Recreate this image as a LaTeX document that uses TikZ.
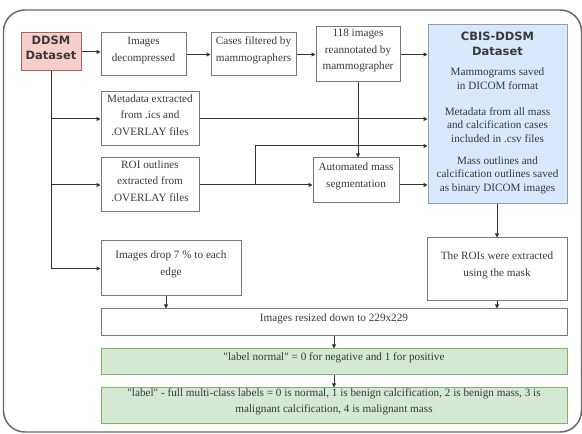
\documentclass[tikz,border=0pt]{standalone}
\usepackage{fontspec}
\setmainfont{Liberation Serif}
\newfontfamily\titlefont{DejaVu Sans}
\usetikzlibrary{fit,arrows.meta}
\definecolor{txt}{HTML}{3A3A3A}
\definecolor{bordr}{HTML}{7A7A7A}
\definecolor{conn}{HTML}{333333}
\definecolor{pinkf}{HTML}{F8CECC}
\definecolor{pinkd}{HTML}{B85450}
\definecolor{bluef}{HTML}{DAE8FC}
\definecolor{blued}{HTML}{8C9DBF}
\definecolor{greenf}{HTML}{D5E8D4}
\definecolor{greend}{HTML}{82B366}
\newcommand\ttlfont{\titlefont\bfseries\fontsize{8.6}{11.25}\selectfont}
\newcommand\bodyfont{\fontsize{8.4}{10.2}\selectfont}
\begin{document}
\begin{tikzpicture}[x=0.75pt,y=-0.75pt,
  box/.style={draw=bordr,line width=0.75pt,fill=white,inner sep=0pt,align=center,text=txt,
    font=\fontsize{8.4}{12.5}\selectfont},
  pinkbox/.style={box,fill=pinkf,draw=pinkd!60!gray,font=\ttlfont},
  bluebox/.style={box,fill=bluef,draw=blued},
  greenbox/.style={box,fill=greenf,draw=greend},
  txtnode/.style={text=txt,align=center,font=\bodyfont,inner sep=0pt},
  arr/.style={draw=conn,line width=0.75pt,-{Triangle[length=3pt,width=3pt]}},
  frame/.style={draw=gray!80!black,line width=1.1pt,rounded corners=16pt}]
\useasboundingbox (0,0) rectangle (582,434);
\draw[frame] (3.5,10) rectangle (581.5,432);

\node[pinkbox,fit={(21,33) (81,71)}] (ddsm) {DDSM\\Dataset};
\node[box,fit={(101,33) (186,76)}] (dec) {Images\\decompressed};
\node[box,fit={(211,33) (296,76)}] (cases) {Cases filtered by\\mammographers};
\node[box,fit={(316,27) (400,82)}] (reann) {118 images\\reannotated by\\mammographer};
\node[bluebox,fit={(428,25) (567,204)}] (cbis) {};
\node[txtnode,font=\ttlfont] (cbist) at (497.5,43.5) {CBIS-DDSM\\Dataset};
\node[txtnode] (cbis1) at (497.5,78.5) {Mammograms saved\\in DICOM format};
\node[txtnode] (cbis2) at (497.5,125) {Metadata from all mass\\and calcification cases\\included in .csv files};
\node[txtnode] (cbis3) at (497.5,175) {Mass outlines and\\calcification outlines saved\\as binary DICOM images};
\node[box,fit={(101,92) (199,146)}] (meta) {Metadata extracted\\from .ics and\\.OVERLAY files};
\node[box,fit={(101,158) (199,212)}] (roi) {ROI outlines\\extracted from\\.OVERLAY files};
\node[box,fit={(313,158) (399,203)}] (auto) {Automated mass\\segmentation};
\node[box,fit={(101,241) (241,296)}] (drop) {Images drop 7 \% to each\\edge};
\node[box,fit={(427,238) (567,301)}] (rois) {The ROIs were extracted\\using the mask};
\node[box,fit={(101,309) (567,336)}] (resz) {Images resized down to 229x229};
\node[greenbox,fit={(101,349) (567,375)}] (lab1) {\textquotedbl label normal\textquotedbl{} = 0 for negative and 1 for positive};
\node[greenbox,fit={(101,388) (567,424)},font=\fontsize{8.4}{12}\selectfont] (lab2) {\textquotedbl label\textquotedbl{} - full multi-class labels = 0 is normal, 1 is benign calcification, 2 is benign mass, 3 is\\malignant calcification, 4 is malignant mass};

\coordinate (br) at (255,185);
\coordinate (brt) at (255,146);
\coordinate (dropout) at (166,296);

\draw[arr] (ddsm.east) -- (ddsm.east -| dec.west);
\draw[arr] (dec) -- (cases);
\draw[arr] (cases.east) -- (cases.east -| reann.west);
\draw[arr] (reann.east) -- (reann.east -| cbis.west);
\draw[arr] (reann.south) -- (reann.south |- auto.north);
\draw[arr] (meta.east) -- (meta.east -| cbis.west);
\draw[arr] (roi.east) -- (roi.east -| auto.west);
\draw[arr] (br) -- (brt) -- (brt -| cbis.west);
\draw[arr] (auto.east |- br) -- (br -| cbis.west);
\draw[arr] (cbis.south -| rois.north) -- (rois.north);
\draw[arr] (rois.south) -- (rois.south |- resz.north);
\draw[arr] (ddsm.south) |- (drop.west);
\draw[arr] (ddsm.south |- meta.west) -- (meta.west);
\draw[arr] (ddsm.south |- roi.west) -- (roi.west);
\draw[arr] (dropout) -- (dropout |- resz.north);
\draw[arr] (resz) -- (lab1);
\draw[arr] (lab1) -- (lab2);
\end{tikzpicture}
\end{document}
